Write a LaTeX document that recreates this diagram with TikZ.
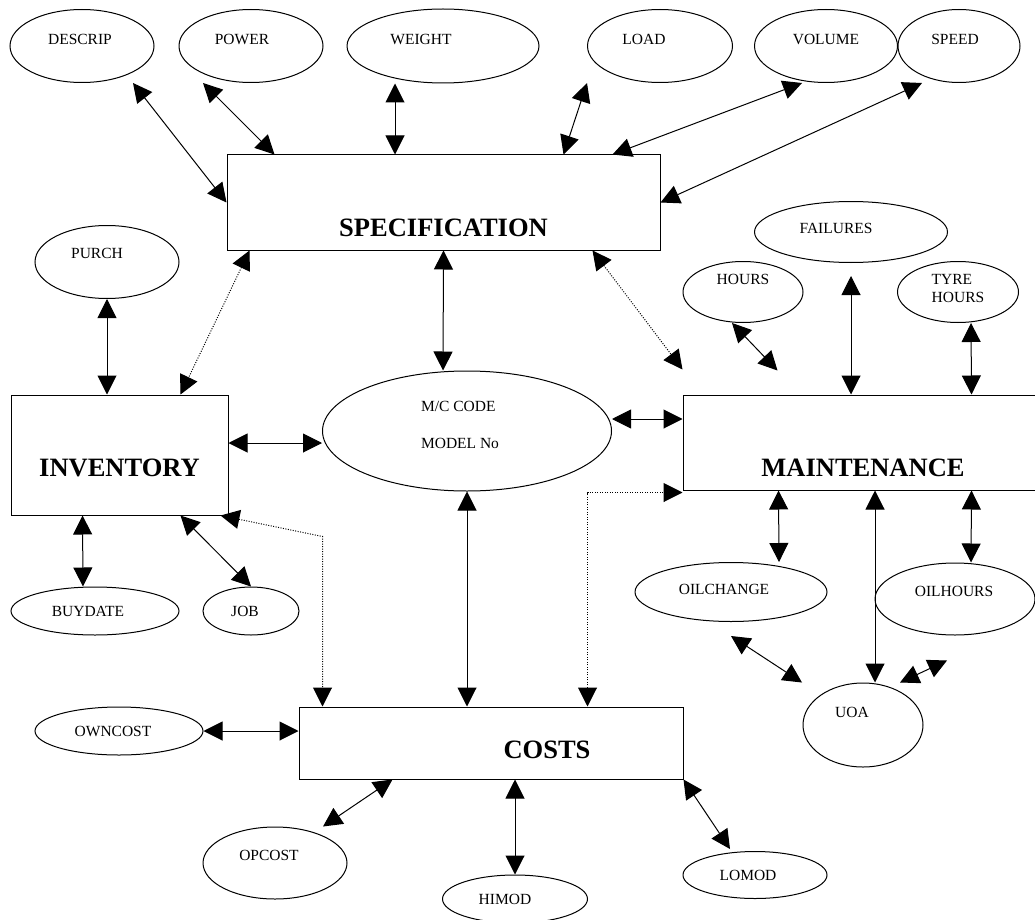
\documentclass[tikz,border=0pt]{standalone}
\usepackage{fontspec}
\setmainfont{Liberation Serif}
\usetikzlibrary{shapes.geometric,arrows.meta}
\tikzset{
  oval/.style={draw, ellipse, line width=1pt, inner sep=0pt},
  entity/.style={draw, rectangle, line width=1pt, inner sep=0pt},
  small/.style={font=\fontsize{15.5}{18}\selectfont, inner sep=0pt, align=left},
  big/.style={font=\fontsize{26.5}{30}\selectfont\bfseries, inner sep=0pt},
  link/.style={line width=1pt, {Triangle[length=19pt,width=19pt]}-{Triangle[length=19pt,width=19pt]}},
  weak/.style={link, dash pattern=on 1pt off 1.5pt},
}
\begin{document}
\begin{tikzpicture}[x=1pt,y=-1pt]
            \useasboundingbox (0,0) rectangle (1035,920);
            \clip (0,0) rectangle (1035,920);

            % Entities
            \node[entity, minimum width=433, minimum height=95, label={[big, yshift=-25]center:SPECIFICATION}] (spec) at (443.5,202.5) {};
            \node[entity, minimum width=217, minimum height=120, label={[big, yshift=-13]center:INVENTORY}] (inv) at (119.5,455) {};
            \node[entity, minimum width=360, minimum height=95, label={[big, yshift=-25]center:MAINTENANCE}] (maint) at (863,442.5) {};
            \node[entity, minimum width=384, minimum height=72, label={[big, xshift=56, yshift=-7]center:COSTS}] (costs) at (491,743) {};

            % Attributes of the specification
            \node[oval, minimum width=144, minimum height=73, label={[small, xshift=-2, yshift=7]center:DESCRIP}] (descrip) at (82,46) {};
            \node[oval, minimum width=144, minimum height=73, label={[small, xshift=-9, yshift=7]center:POWER}] (power) at (251,46) {};
            \node[oval, minimum width=192, minimum height=74, label={[small, xshift=-22, yshift=7]center:WEIGHT}] (weight) at (443,46) {};
            \node[oval, minimum width=145, minimum height=73, label={[small, xshift=-16, yshift=7]center:LOAD}] (load) at (660,46) {};
            \node[oval, minimum width=143, minimum height=73, label={[small, yshift=7]center:VOLUME}] (volume) at (826,46) {};
            \node[oval, minimum width=122, minimum height=73, label={[small, xshift=-4, yshift=7]center:SPEED}] (speed) at (959,46) {};

            % Key
            \node[oval, minimum width=289, minimum height=120, label={[small, xshift=-7, yshift=6.5]center:M/C CODE\\[19pt]MODEL No}] (mc) at (467,431) {};

            % Attributes of the inventory
            \node[oval, minimum width=144, minimum height=73, label={[small, xshift=-10, yshift=9]center:PURCH}] (purch) at (107,262) {};
            \node[oval, minimum width=168, minimum height=48, label={[small, xshift=-7]center:BUYDATE}] (buydate) at (95,611) {};
            \node[oval, minimum width=96, minimum height=48, label={[small, xshift=-6]center:JOB}] (job) at (251,611) {};

            % Attributes of the maintenance
            \node[oval, minimum width=193, minimum height=61, label={[small, xshift=-15, yshift=4]center:FAILURES}] (failures) at (851,232) {};
            \node[oval, minimum width=120, minimum height=61, label={[small, yshift=13]center:HOURS}] (hours) at (743,292) {};
            \node[oval, minimum width=121, minimum height=61, label={[small, yshift=4]center:TYRE\\HOURS}] (tyre) at (958,292) {};
            \node[oval, minimum width=192, minimum height=59, label={[small, xshift=-7, yshift=3]center:OILCHANGE}] (oilchange) at (731,592) {};
            \node[oval, minimum width=160, minimum height=72, label={[small, xshift=-1, yshift=8]center:OILHOURS}] (oilhours) at (955,599) {};
            \node[oval, minimum width=120, minimum height=84, label={[small, xshift=-11, yshift=13]center:UOA}] (uoa) at (863,725) {};

            % Attributes of the costs
            \node[oval, minimum width=168, minimum height=48, label={[small, xshift=-6]center:OWNCOST}] (owncost) at (119,731) {};
            \node[oval, minimum width=144, minimum height=72, label={[small, xshift=-6, yshift=8]center:OPCOST}] (opcost) at (275,863) {};
            \node[oval, minimum width=145, minimum height=48, label={[small, xshift=-10]center:HIMOD}] (himod) at (515,899) {};
            \node[oval, minimum width=144, minimum height=47, label={[small, xshift=-7]center:LOMOD}] (lomod) at (755,875) {};

            % Links to the specification
            \draw[link] ([xshift=51]descrip.south) -- (spec.west);
            \draw[link] ([xshift=-48]power.south) -- ([xshift=48]spec.north west);
            \draw[link] ([xshift=-48]weight.south) -- ([xshift=-48.5]spec.north);
            \draw[link] ([xshift=-73]load.south) -- ([xshift=-97]spec.north east);
            \draw[link] ([xshift=-24]volume.south) -- ([xshift=-48]spec.north east);
            \draw[link] ([xshift=-37]speed.south) -- (spec.east);
            \draw[link] (spec.south) -- ([xshift=-24]mc.north);
            \draw[weak] ([xshift=23]spec.south west) -- ([xshift=-48]inv.north east);
            \draw[weak] ([xshift=-68]spec.south east) -- ([yshift=25]maint.north west);

            % Links to the inventory
            \draw[link] (purch.south) -- ([xshift=-12.5]inv.north);
            \draw[link] ([yshift=12]inv.east) -- ([yshift=-12]mc.west);
            \draw[link] ([xshift=72]inv.south west) -- ([xshift=-12]buydate.north);
            \draw[link] ([xshift=-48]inv.south east) -- (job.north);
            \draw[weak] ([xshift=-8]inv.south east) -- ([xshift=24,yshift=170]costs.north west) -- ([xshift=24]costs.north west);

            % Links to the maintenance
            \draw[link] ([xshift=-11]hours.south) -- ([xshift=95,yshift=24]maint.north west);
            \draw[link] ([yshift=-13]failures.south) -- ([xshift=-12]maint.north);
            \draw[link] ([xshift=13]tyre.south) -- ([xshift=-72]maint.north east);
            \draw[link] ([yshift=12]mc.east) -- ([yshift=23.5]maint.west);
            \draw[link] ([xshift=96]maint.south west) -- ([xshift=48]oilchange.north);
            \draw[link] ([xshift=12]maint.south) -- ([xshift=12]uoa.north);
            \draw[link] ([xshift=-72]maint.south east) -- ([xshift=16]oilhours.north);
            \draw[link] ([yshift=-14]oilchange.south) -- ([xshift=-61]uoa.north);
            \draw[link] ([xshift=-8,yshift=-25]oilhours.south) -- ([xshift=37]uoa.north);
            \draw[weak] ([xshift=-96]costs.north east) |- ([yshift=-2]maint.south west);

            % Links to the costs
            \draw[link] (mc.south) -- ([xshift=-24]costs.north);
            \draw[link] (owncost.east) -- ([yshift=12]costs.west);
            \draw[link] ([xshift=94]costs.south west) -- ([xshift=48]opcost.north);
            \draw[link] ([xshift=24]costs.south) -- (himod.north);
            \draw[link] (costs.south east) -- ([xshift=-25,yshift=2]lomod.north);
        \end{tikzpicture}
\end{document}
